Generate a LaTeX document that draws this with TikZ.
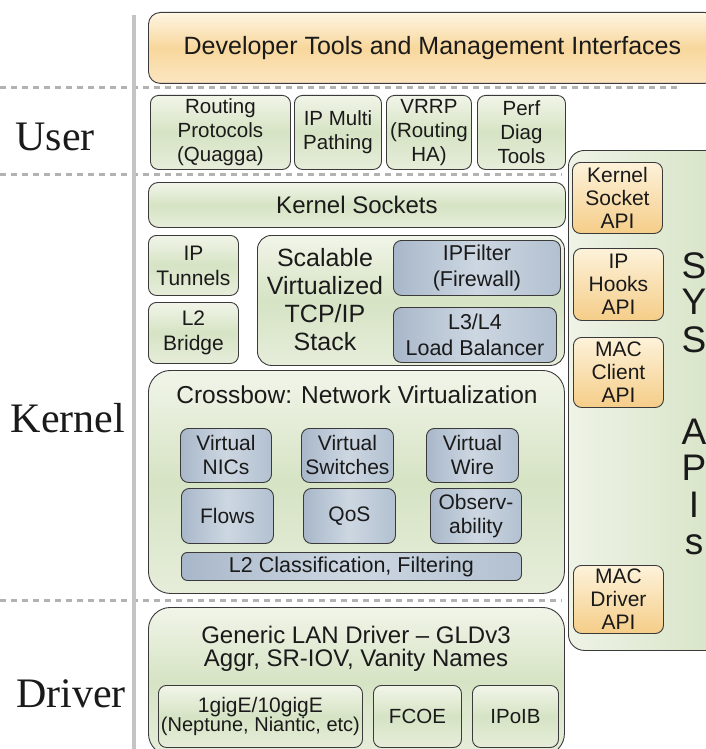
\documentclass[tikz,border=0pt]{standalone}
\usepackage{fontspec}
\setmainfont{Liberation Sans}
\newfontfamily\layerfont{Liberation Serif}
\newcommand\tsize[2]{\fontsize{#1pt}{#2pt}\selectfont}

\definecolor{edge}{HTML}{3A3A3A}
\definecolor{ink}{HTML}{1A1A1A}
\definecolor{sepgray}{HTML}{B2B2B2}
\definecolor{railgray}{HTML}{C4C4C4}
\definecolor{grnTop}{HTML}{F1F5E9}
\definecolor{grnMid}{HTML}{D6E3C4}
\definecolor{grnBot}{HTML}{E6EDDA}
\definecolor{bluEdgeL}{HTML}{A8B7C9}
\definecolor{bluMid}{HTML}{CDD7E2}
\definecolor{bluEdgeR}{HTML}{B2C0D0}
\definecolor{orgTop}{HTML}{FEF5E3}
\definecolor{orgMid}{HTML}{F8D79C}
\definecolor{orgBot}{HTML}{FBE6C2}
\definecolor{apiTop}{HTML}{FDF2DA}
\definecolor{apiBot}{HTML}{F5CD88}
\definecolor{sysL}{HTML}{EEF3E6}
\definecolor{sysR}{HTML}{D6E3C5}

\tikzset{
  tile/.style={draw=edge, line width=0.9pt, rounded corners=8pt, inner sep=0pt,
               align=center, anchor=north west, text=ink},
  greentile/.style={tile, top color=grnTop, bottom color=grnBot, middle color=grnMid},
  bluetile/.style={tile, left color=bluEdgeL, right color=bluEdgeR, middle color=bluMid},
  orangetile/.style={tile, top color=orgTop, bottom color=orgBot, middle color=orgMid},
  apitile/.style={tile, top color=apiTop, bottom color=apiBot},
  boxsize/.style 2 args={minimum width=#1pt, minimum height=#2pt},
  sepline/.style={draw=sepgray, line width=3pt, dash pattern=on 6pt off 5pt},
  rail/.style={draw=railgray, line width=4pt},
  layer/.style={font=\layerfont\tsize{42}{46}, anchor=base, text=ink},
  txtS/.style={font=\tsize{20.5}{24}},
  txtM/.style={font=\tsize{21.5}{26}},
  txtL/.style={font=\tsize{24}{28}},
  txtX/.style={font=\tsize{25}{28}},
  bigletter/.style={font=\tsize{37}{40}, text=ink}
}

\begin{document}
\begin{tikzpicture}[x=1pt,y=-1pt]
\useasboundingbox (0,0) rectangle (706,749);
\fill[white] (0,0) rectangle (706,749);

% layer separators and the vertical rail
\draw[sepline] (0,88) -- (680,88);
\draw[sepline] (0,174) -- (562,174);
\draw[sepline] (0,600) -- (562,600);
\draw[rail] (134,15) -- (134,749);

% layer names
\node[layer] (user) at (55,150) {User};
\node[layer] (kernel) at (68,432) {Kernel};
\node[layer] (driver) at (71,707) {Driver};

% management layer
\node[orangetile, boxsize={568}{71}, rounded corners=12pt, txtX] (devtools) at (148,12)
  {Developer Tools and Management Interfaces};

% user space
\node[greentile, boxsize={140}{74}, txtS] (routing) at (150,95) {Routing\\Protocols\\(Quagga)};
\node[greentile, boxsize={87}{74}, txtS] (ipmp) at (294,95) {IP Multi\\Pathing};
\node[greentile, boxsize={85}{74}, txtS] (vrrp) at (386,95) {VRRP\\(Routing\\HA)};
\node[greentile, boxsize={88}{74}, txtS] (perf) at (477,95) {Perf\\Diag\\Tools};

% system API column
\node[tile, left color=sysL, right color=sysR, boxsize={160}{500}, rounded corners=16pt] (sysapis) at (568,150) {};
\node[apitile, boxsize={90}{71}, font=\tsize{21}{23}] (ksapi) at (572,162) {Kernel\\Socket\\API};
\node[apitile, boxsize={90}{72}, font=\tsize{21}{23}] (iphooks) at (573,248) {IP\\Hooks\\API};
\node[apitile, boxsize={90}{70}, font=\tsize{21}{23}] (macclient) at (573,337) {MAC\\Client\\API};
\node[apitile, boxsize={90}{68}, font=\tsize{21}{23}] (macdriver) at (573,565) {MAC\\Driver\\API};
\foreach \ch/\yy [count=\i] in {S/266,Y/302,S/340,A/432,P/468,I/505,s/545}
  \node[bigletter] (sys\i) at (694,\yy) {\ch};

% kernel: sockets and IP stack
\node[greentile, boxsize={417}{45}, rounded corners=10pt, txtL] (sockets) at (148,182) {Kernel Sockets};
\node[greentile, boxsize={90}{60}, font=\tsize{21}{25}] (iptunnels) at (148,235) {IP\\Tunnels};
\node[greentile, boxsize={90}{61}, font=\tsize{21}{25}] (l2bridge) at (148,302) {L2\\Bridge};
\node[greentile, boxsize={307}{130}, rounded corners=14pt] (tcpip) at (257,235) {};
\node[txtX, align=center, text=ink] (tcpiptext) at (325,300) {Scalable\\Virtualized\\TCP/IP\\Stack};
\node[bluetile, boxsize={167}{55}, txtM] (ipfilter) at (393,240) {IPFilter\\(Firewall)};
\node[bluetile, boxsize={163}{55}, txtM] (l3l4) at (393,307) {L3/L4\\Load Balancer};

% kernel: Crossbow
\node[greentile, boxsize={416}{223}, rounded corners=22pt] (crossbow) at (148,370) {};
\node[font=\tsize{24.5}{28}, text=ink] (cbtitle) at (357,395) {Crossbow: Network Virtualization};
\node[bluetile, boxsize={91}{54}, font=\tsize{21}{24}] (vnics) at (180,428) {Virtual\\NICs};
\node[bluetile, boxsize={92}{54}, font=\tsize{21}{24}] (vswitches) at (301,428) {Virtual\\Switches};
\node[bluetile, boxsize={92}{54}, font=\tsize{21}{24}] (vwire) at (426,428) {Virtual\\Wire};
\node[bluetile, boxsize={92}{55}, font=\tsize{21}{24}] (flows) at (181,488) {Flows};
\node[bluetile, boxsize={92}{55}, font=\tsize{21}{24}] (qos) at (303,488) {QoS};
\node[bluetile, boxsize={91}{55}, font=\tsize{21}{24}] (observ) at (430,488) {Observ-\\ability};
\node[bluetile, boxsize={340}{28}, rounded corners=6pt, txtM] (l2class) at (181,552) {L2 Classification, Filtering};

% driver layer
\node[greentile, boxsize={416}{148}, rounded corners=22pt] (gld) at (148,607) {};
\node[txtL, anchor=base, text=ink] (gldname) at (356,643) {Generic LAN Driver – GLDv3};
\node[txtL, anchor=base, text=ink] (gldfeat) at (356,666) {Aggr, SR-IOV, Vanity Names};
\node[greentile, boxsize={204}{62}] (gige) at (158,685)
  {\tsize{21}{22}1gigE/10gigE\\\tsize{20}{22}(Neptune, Niantic, etc)};
\node[greentile, boxsize={88}{62}, font=\tsize{20.5}{24}] (fcoe) at (373,685) {FCOE};
\node[greentile, boxsize={86}{62}, font=\tsize{20.5}{24}] (ipoib) at (472,685) {IPoIB};
\end{tikzpicture}
\end{document}
